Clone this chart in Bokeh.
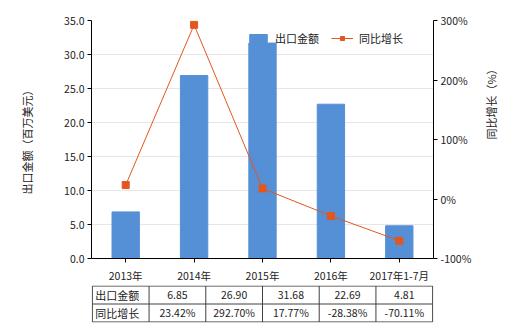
import math
from bokeh.plotting import figure
from bokeh.models import (Range1d, LinearAxis, FixedTicker, PrintfTickFormatter,
                          Legend, LegendItem)
from bokeh.layouts import column
from bokeh.embed import file_html
from bokeh.resources import INLINE
from bokeh.core.properties import value

categories = ["2013年", "2014年", "2015年", "2016年", "2017年1-7月"]
export_values = [6.85, 26.90, 31.68, 22.69, 4.81]
yoy_growth = [23.42, 292.70, 17.77, -28.38, -70.11]
export_labels = ["6.85", "26.90", "31.68", "22.69", "4.81"]
growth_labels = ["23.42%", "292.70%", "17.77%", "-28.38%", "-70.11%"]
row_headers = ["出口金额", "同比增长"]
left_ticks = [0, 5, 10, 15, 20, 25, 30, 35]
right_ticks = [-100, 0, 100, 200, 300]

FONT = "Noto Sans CJK SC"
BAR_COLOR = "#5590D6"
LINE_COLOR = "#E3561F"
TXT = "#222222"

p = figure(x_range=categories, y_range=Range1d(0, 35), width=520, height=285,
           output_backend="svg", toolbar_location=None,
           min_border_left=91, min_border_right=87, min_border_top=20, min_border_bottom=26)
p.extra_y_ranges = {"pct": Range1d(-100, 300)}
p.outline_line_color = None
p.xgrid.grid_line_color = None
p.ygrid.grid_line_color = "#E6E6E6"
p.ygrid.ticker = FixedTicker(ticks=left_ticks)

bars = p.vbar(x=categories, top=export_values, width=0.4, color=BAR_COLOR)
ln = p.line(x=categories, y=yoy_growth, y_range_name="pct", color=LINE_COLOR, line_width=1)
sc = p.scatter(x=categories, y=yoy_growth, y_range_name="pct", marker="square", size=7,
               color=LINE_COLOR)

ax = p.yaxis[0]
ax.ticker = FixedTicker(ticks=left_ticks)
ax.formatter = PrintfTickFormatter(format="%.1f")
ax.axis_label = "出口金额（百万美元）"

rax = LinearAxis(y_range_name="pct", ticker=FixedTicker(ticks=right_ticks),
                 formatter=PrintfTickFormatter(format="%d%%"), axis_label="同比增长（%）")
p.add_layout(rax, "right")

for a in [p.xaxis[0], ax, rax]:
    a.axis_line_color = "black"
    a.major_tick_line_color = "black"
    a.major_tick_out = 4
    a.major_tick_in = 0
    a.minor_tick_line_color = None
    a.major_label_text_font = FONT
    a.major_label_text_font_size = "10.5px"
    a.major_label_text_color = TXT
    a.axis_label_text_font = FONT
    a.axis_label_text_font_size = "11px"
    a.axis_label_text_font_style = "normal"
    a.axis_label_text_color = TXT
p.xaxis[0].major_label_standoff = 5
ax.major_label_standoff = 3
rax.major_label_standoff = 3
ax.axis_label_standoff = 26
rax.axis_label_standoff = 17
rax.axis_label_orientation = math.pi / 2

legend = Legend(items=[LegendItem(label="出口金额", renderers=[bars]),
                       LegendItem(label="同比增长", renderers=[ln, sc])],
                orientation="horizontal", location=(156, 212),
                background_fill_alpha=0, border_line_color=None,
                padding=0, margin=0, spacing=12, glyph_width=22, glyph_height=10,
                label_standoff=6, label_text_font=FONT, label_text_font_size="11px",
                label_text_color=TXT, label_height=16)
p.add_layout(legend, "center")

# table
n = len(categories)
t = figure(x_range=Range1d(-1.515, n - 0.485), y_range=Range1d(-0.03, 2.03), width=520, height=45,
           output_backend="svg", toolbar_location=None,
           min_border_left=20, min_border_right=87, min_border_top=0, min_border_bottom=8)
t.axis.visible = False
t.grid.visible = False
t.outline_line_color = None
t.segment(x0=[-1.5] * 3, x1=[n - 0.5] * 3, y0=[0, 1, 2], y1=[0, 1, 2],
          line_color="#404040", line_width=1)
xs = [i - 0.5 for i in range(-1, n + 1)]
t.segment(x0=xs, x1=xs, y0=[0] * len(xs), y1=[2] * len(xs), line_color="#404040", line_width=1)
t.text(x=[-1.5, -1.5], y=[1.5, 0.5], text=row_headers, x_offset=3, text_align="left",
       text_baseline="middle", text_font=value(FONT), text_font_size="11px", text_color=TXT)
idx = list(range(n))
t.text(x=idx, y=[1.5] * n, text=export_labels, text_align="center",
       text_baseline="middle", text_font=value(FONT), text_font_size="10.5px", text_color=TXT)
t.text(x=idx, y=[0.5] * n, text=growth_labels, text_align="center",
       text_baseline="middle", text_font=value(FONT), text_font_size="10.5px", text_color=TXT)

layout = column(p, t, spacing=0)
open("out.html", "w").write(file_html(layout, INLINE))
